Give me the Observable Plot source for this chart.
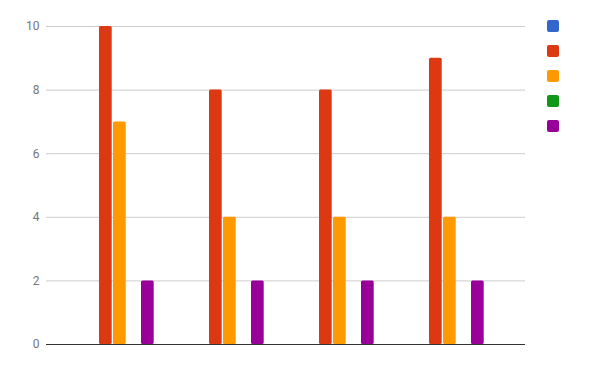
<!DOCTYPE html>
<html>
<head>
<meta charset="utf-8">
<script src="https://cdn.jsdelivr.net/npm/d3@7"></script>
<script src="https://cdn.jsdelivr.net/npm/@observablehq/plot@0.6"></script>
<style>
  body { margin: 0; background: #fff; }
  #wrap { position: relative; width: 600px; height: 371px; }
  .legend { position: absolute; left: 547px; top: 20px; }
  .legend div { width: 12px; height: 12px; border-radius: 2px; margin-bottom: 13px; }
</style>
</head>
<body>
<div id="wrap"></div>
<script>
const categories = ["1", "2", "3", "4"];
const seriesNames = ["Series 1", "Series 2", "Series 3", "Series 4", "Series 5"];
const seriesColors = ["#3366cc", "#dc3912", "#ff9900", "#109618", "#990099"];
const series1 = [0, 0, 0, 0];
const series2 = [10, 8, 8, 9];
const series3 = [7, 4, 4, 4];
const series4 = [0, 0, 0, 0];
const series5 = [2, 2, 2, 2];
const yTicks = [0, 2, 4, 6, 8, 10];

const seriesValues = [series1, series2, series3, series4, series5];
const bandWidth = 70, barStep = 14, barWidth = 12.7;

const barMarks = seriesValues.map((vals, i) =>
  Plot.barY(
    categories.map((c, j) => ({category: c, value: vals[j]})).filter(d => d.value > 0),
    {
      x: "category",
      y: "value",
      fill: seriesColors[i],
      insetLeft: i * barStep,
      insetRight: bandWidth - (i * barStep + barWidth),
      rx: 1.5
    }
  )
);

const chart = Plot.plot({
  width: 600,
  height: 371,
  marginLeft: 46,
  marginRight: 75,
  marginTop: 26,
  marginBottom: 27,
  style: {fontFamily: "Roboto, sans-serif", fontSize: "12px", color: "#757575", background: "#fff"},
  x: {domain: categories, range: [65, 505], paddingInner: 40 / 110, paddingOuter: 20 / 110, axis: null},
  y: {domain: [0, 10], ticks: yTicks, tickSize: 0, tickPadding: 7, label: null},
  marks: [
    Plot.ruleY(yTicks.filter(t => t > 0), {stroke: "#cccccc", strokeWidth: 1}),
    ...barMarks,
    Plot.ruleY([0], {stroke: "#333333", strokeWidth: 1})
  ]
});

const wrap = document.getElementById("wrap");
wrap.appendChild(chart);
const legend = document.createElement("div");
legend.className = "legend";
seriesColors.forEach((c, i) => {
  const sw = document.createElement("div");
  sw.style.background = c;
  sw.title = seriesNames[i];
  legend.appendChild(sw);
});
wrap.appendChild(legend);
</script>
</body>
</html>
